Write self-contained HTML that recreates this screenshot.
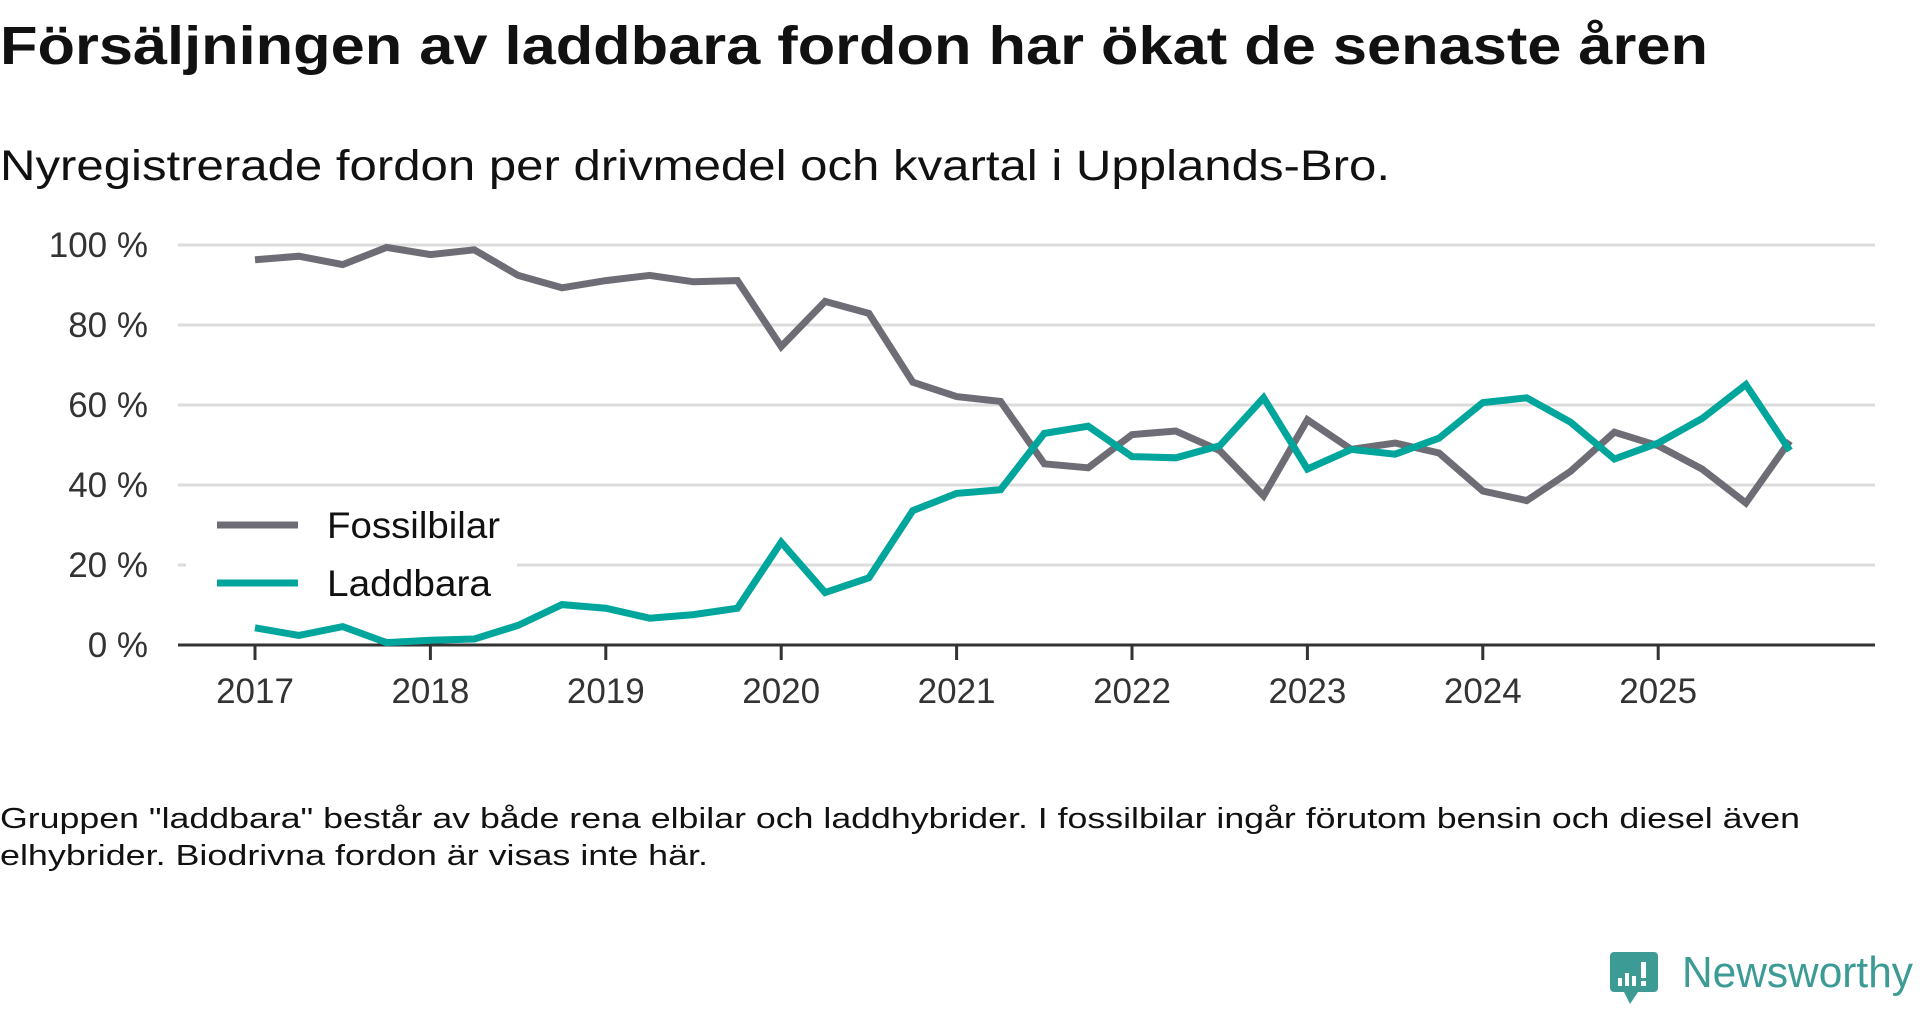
<!DOCTYPE html>
<html><head><meta charset="utf-8"><style>
html,body{margin:0;padding:0;background:#fff;}
svg{display:block;font-family:"Liberation Sans",sans-serif;}
</style></head><body>
<svg id="chart" width="1920" height="1010" viewBox="0 0 1920 1010">
<text x="0" y="64" font-size="54" font-weight="bold" fill="#111" textLength="1708" lengthAdjust="spacingAndGlyphs">Försäljningen av laddbara fordon har ökat de senaste åren</text>
<text x="0" y="180" font-size="43" fill="#111" textLength="1390" lengthAdjust="spacingAndGlyphs">Nyregistrerade fordon per drivmedel och kvartal i Upplands-Bro.</text>
<g id="grid"></g>
<g id="xaxis"></g>
<g id="series"></g>
<g id="legend">
<rect x="186" y="500" width="331" height="110" fill="#fff"/>
<line x1="217" y1="525" x2="298" y2="525" stroke="#6e6d75" stroke-width="7"/>
<text x="327" y="538" font-size="37" fill="#111" textLength="173" lengthAdjust="spacingAndGlyphs">Fossilbilar</text>
<line x1="217" y1="583" x2="298" y2="583" stroke="#00a69c" stroke-width="7"/>
<text x="327" y="596" font-size="37" fill="#111" textLength="164" lengthAdjust="spacingAndGlyphs">Laddbara</text>
</g>
<text font-size="29" fill="#111"><tspan x="0" y="828" textLength="1800" lengthAdjust="spacingAndGlyphs">Gruppen "laddbara" består av både rena elbilar och laddhybrider. I fossilbilar ingår förutom bensin och diesel även</tspan><tspan x="0" y="865" textLength="708" lengthAdjust="spacingAndGlyphs">elhybrider. Biodrivna fordon är visas inte här.</tspan></text>
<g>
<path d="M1614 952 h40 a4 4 0 0 1 4 4 v32 a4 4 0 0 1 -4 4 h-16 l-8 12 l-6 -12 h-10 a4 4 0 0 1 -4 -4 v-32 a4 4 0 0 1 4 -4z" fill="#3d9b96"/>
<rect x="1618" y="978" width="4" height="8" fill="#fff"/><rect x="1625" y="973" width="4" height="13" fill="#fff"/><rect x="1632" y="976" width="4" height="10" fill="#fff"/><rect x="1641" y="962" width="5" height="16" fill="#fff"/><rect x="1641" y="981" width="5" height="5" fill="#fff"/>
<text x="1682" y="987" font-size="44" fill="#3d9b96" textLength="231" lengthAdjust="spacingAndGlyphs">Newsworthy</text>
</g>
</svg>
<script>
const years = [2017,2018,2019,2020,2021,2022,2023,2024,2025];
const yTicks = [0,20,40,60,80,100];
const yTickLabels = ["0 %","20 %","40 %","60 %","80 %","100 %"];
const fossilbilar = [96.3,97.2,95.1,99.4,97.6,98.8,92.4,89.3,91.1,92.4,90.8,91.1,74.6,85.9,82.9,65.7,62.1,60.9,45.3,44.3,52.6,53.5,48.6,37.3,56.3,48.9,50.5,48.0,38.5,36.1,43.4,53.2,49.8,44.0,35.5,51.0];
const laddbara = [4.3,2.4,4.6,0.6,1.2,1.5,4.9,10.1,9.2,6.7,7.6,9.2,25.7,13.1,16.8,33.6,37.9,38.8,52.9,54.7,47.1,46.8,49.8,61.8,44.0,48.9,47.7,51.7,60.6,61.8,55.7,46.5,50.5,56.6,65.1,48.6];

const NS="http://www.w3.org/2000/svg";
const x0=255, perYear=175.4, left=178, right=1875, yBase=645, yTop=245;
const xs = t => x0 + (t-2017)*perYear;
const ys = v => yBase - v/100*(yBase-yTop);
function mk(tag, attrs, parent){const e=document.createElementNS(NS,tag);for(const k in attrs)e.setAttribute(k,attrs[k]);parent.appendChild(e);return e;}
const grid=document.getElementById('grid'), xa=document.getElementById('xaxis'), ser=document.getElementById('series');
yTicks.forEach((v,i)=>{
  if(v>0){const l=mk('line',{x1:left,x2:right,y1:ys(v),y2:ys(v),stroke:'#dcdcdc','stroke-width':3},grid);
  
  }
  const t=mk('text',{x:148,y:ys(v)+12,'text-anchor':'end','font-size':35,fill:'#333'},grid);
  t.textContent=yTickLabels[i];
  
  
});
const ax=mk('line',{x1:left,x2:right,y1:yBase,y2:yBase,stroke:'#333','stroke-width':3},xa);


years.forEach(y=>{
  const tk=mk('line',{x1:xs(y),x2:xs(y),y1:yBase,y2:yBase+15,stroke:'#333','stroke-width':3},xa);
  
  
  const t=mk('text',{x:xs(y),y:703,'text-anchor':'middle','font-size':35,fill:'#333'},xa);
  t.textContent=y;
  
  
});
function line(data,color,name){
  const pts=data.map((v,i)=>xs(2017+i/4).toFixed(1)+','+ys(v).toFixed(1)).join(' ');
  const p=mk('polyline',{points:pts,fill:'none',stroke:color,'stroke-width':7,'stroke-linejoin':'miter'},ser);
  
  
}
line(fossilbilar,'#6e6d75','line-fossilbilar');
line(laddbara,'#00a69c','line-laddbara');
</script>
</body></html>
